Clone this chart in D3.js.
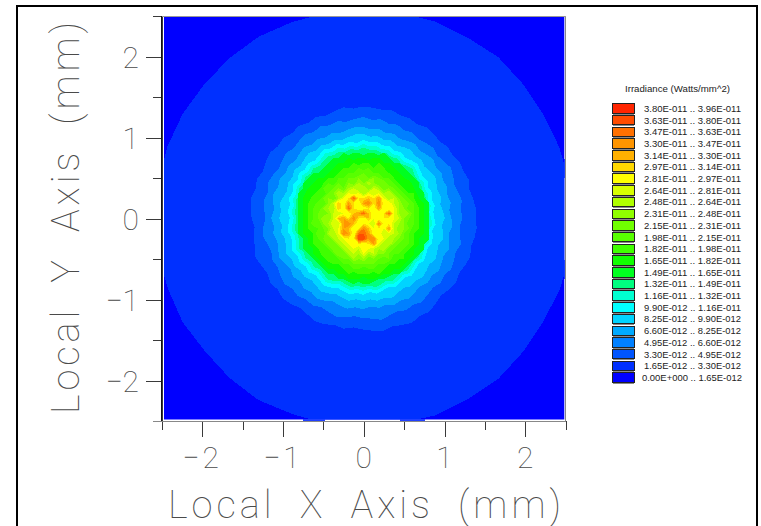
<!DOCTYPE html>
<html><head><meta charset="utf-8">
<script src="https://cdn.jsdelivr.net/npm/d3@7"></script>
<style>html,body{margin:0;padding:0;background:#fff}svg{display:block}</style>
</head><body><svg id="c" width="761" height="526"></svg>
<script>
const legendTitle = "Irradiance (Watts/mm^2)";
const xTitle = "Local X Axis (mm)";
const yTitle = "Local Y Axis (mm)";
const majorTicks = [-2,-1,0,1,2];
const minorTicks = [-2.5,-1.5,-0.5,0.5,1.5,2.5];
const lowerLabels = ["0.00E+000","1.65E-012","3.30E-012","4.95E-012","6.60E-012","8.25E-012","9.90E-012","1.16E-011","1.32E-011","1.49E-011","1.65E-011","1.82E-011","1.98E-011","2.15E-011","2.31E-011","2.48E-011","2.64E-011","2.81E-011","2.97E-011","3.14E-011","3.30E-011","3.47E-011","3.63E-011","3.80E-011"];
const upperLabels = ["1.65E-012","3.30E-012","4.95E-012","6.60E-012","8.25E-012","9.90E-012","1.16E-011","1.32E-011","1.49E-011","1.65E-011","1.82E-011","1.98E-011","2.15E-011","2.31E-011","2.48E-011","2.64E-011","2.81E-011","2.97E-011","3.14E-011","3.30E-011","3.47E-011","3.63E-011","3.80E-011","3.96E-011"];
const levelColors = ["#0000ff","#0030ff","#0055ff","#0080ff","#00aaff","#00d4ff","#00ffff","#00ffd0","#00ff80","#00ff20","#10ff00","#40ff00","#58ff00","#70ff00","#90ff00","#b0ff00","#d8ff00","#ffff00","#ffd800","#ffb000","#ff9500","#ff7000","#ff4c00","#ff2500"];

// Outer contour radii in mm, read at even angles clockwise from the top.
const ring1 = [2.57,2.58,2.59,2.58,2.60,2.58,2.57,2.58,2.59,2.58,2.60,2.59,2.57,2.58,2.60,2.59,2.60,2.58,2.60,2.59,2.58,2.60,2.58,2.56,2.58,2.57,2.58,2.56,2.57,2.58,2.58,2.57,2.58,2.59,2.58,2.58];
const ring2 = [
1.38,1.37,1.36,1.38,1.35,1.36,1.34,1.37,1.36,1.34,1.37,1.35,
1.38,1.37,1.39,1.36,1.38,1.40,1.39,1.41,1.40,1.38,1.41,1.39,
1.37,1.40,1.38,1.36,1.39,1.42,1.40,1.43,1.41,1.39,1.42,1.40,
1.38,1.36,1.39,1.37,1.40,1.41,1.38,1.36,1.39,1.41,1.38,1.40,
1.37,1.39,1.42,1.39,1.37,1.35,1.38,1.40,1.41,1.38,1.40,1.37,
1.39,1.41,1.38,1.40,1.37,1.39,1.36,1.38,1.35,1.37,1.39,1.36];
const ring3 = [
1.25,1.22,1.24,1.21,1.23,1.20,1.22,1.19,1.21,1.23,1.20,1.22,
1.25,1.23,1.20,1.22,1.24,1.21,1.23,1.20,1.22,1.25,1.22,1.24,
1.26,1.23,1.25,1.22,1.24,1.27,1.24,1.26,1.23,1.25,1.28,1.25,
1.24,1.22,1.25,1.27,1.24,1.22,1.25,1.23,1.26,1.24,1.27,1.25,
1.22,1.24,1.21,1.23,1.26,1.24,1.21,1.23,1.25,1.22,1.26,1.24,
1.21,1.23,1.25,1.22,1.24,1.26,1.23,1.25,1.22,1.24,1.21,1.23];
const ring4 = [
1.13,1.10,1.12,1.09,1.11,1.08,1.10,1.12,1.09,1.11,1.13,1.10,
1.12,1.09,1.11,1.08,1.10,1.07,1.09,1.11,1.08,1.10,1.13,1.10,
1.12,1.14,1.11,1.13,1.10,1.12,1.15,1.12,1.14,1.11,1.13,1.10,
1.13,1.11,1.14,1.12,1.10,1.13,1.15,1.12,1.14,1.11,1.13,1.10,
1.12,1.15,1.12,1.10,1.13,1.11,1.14,1.11,1.13,1.15,1.12,1.14,
1.11,1.13,1.10,1.12,1.14,1.11,1.13,1.10,1.12,1.09,1.11,1.13];
const ring5 = [
1.04,1.01,1.03,1.00,1.02,0.99,1.01,1.03,1.00,1.02,0.99,1.01,
1.03,1.00,0.98,1.00,0.97,0.99,1.01,0.98,1.00,1.02,0.99,1.01,
1.03,1.00,1.02,1.04,1.01,1.03,1.00,1.02,1.05,1.02,1.04,1.01,
1.03,1.01,1.04,1.02,1.00,1.03,1.05,1.02,1.00,1.03,1.01,1.04,
1.02,1.05,1.02,1.00,1.03,1.01,1.04,1.02,1.05,1.02,1.00,1.03,
1.01,1.04,1.01,1.03,1.05,1.02,1.04,1.01,1.03,1.00,1.02,1.04];
const ring6 = [
0.97,0.94,0.96,0.93,0.95,0.92,0.94,0.91,0.93,0.95,0.92,0.90,
0.92,0.89,0.91,0.88,0.90,0.87,0.88,0.90,0.87,0.89,0.91,0.88,
0.90,0.92,0.89,0.91,0.93,0.90,0.92,0.94,0.91,0.93,0.95,0.92,
0.95,0.93,0.96,0.94,0.92,0.95,0.97,0.94,0.92,0.95,0.93,0.96,
0.94,0.97,0.94,0.92,0.95,0.93,0.91,0.94,0.92,0.95,0.93,0.96,
0.94,0.97,0.94,0.96,0.93,0.95,0.98,0.95,0.97,0.94,0.96,0.93];
const ring7 = [
0.92,0.89,0.91,0.88,0.90,0.87,0.89,0.86,0.88,0.90,0.87,0.85,
0.87,0.84,0.86,0.83,0.85,0.82,0.84,0.86,0.83,0.85,0.87,0.84,
0.86,0.88,0.85,0.87,0.89,0.86,0.88,0.90,0.87,0.89,0.91,0.88,
0.90,0.88,0.91,0.89,0.87,0.90,0.92,0.89,0.87,0.90,0.88,0.91,
0.89,0.92,0.89,0.87,0.90,0.88,0.86,0.89,0.87,0.90,0.88,0.91,
0.89,0.92,0.89,0.91,0.88,0.90,0.93,0.90,0.92,0.89,0.91,0.88];
const ring8 = [
0.87,0.85,0.86,0.84,0.85,0.83,0.85,0.82,0.84,0.86,0.83,0.82,
0.83,0.81,0.82,0.80,0.81,0.79,0.81,0.82,0.80,0.82,0.83,0.81,
0.82,0.84,0.82,0.83,0.85,0.82,0.84,0.86,0.83,0.85,0.87,0.84,
0.86,0.84,0.87,0.85,0.83,0.86,0.88,0.85,0.83,0.86,0.84,0.87,
0.85,0.88,0.85,0.83,0.86,0.84,0.83,0.85,0.84,0.86,0.84,0.87,
0.85,0.88,0.85,0.87,0.84,0.86,0.88,0.86,0.87,0.85,0.87,0.84];
const outerRings = [ring1,ring2,ring3,ring4,ring5,ring6,ring7,ring8];

// Central beam, colour level at 0.0625 mm spacing, top row first.
const coreStep = 0.0625;
const coreLevels = [
[8,8,8,8,8,8,8,8,8,8,8,8,8,8,8,8,8,8,8,8,8,8,8,8,8,8,8,8,8],
[8,8,8,8,8,8,8,8,8,8,9,8,9,9,8,9,9,8,9,8,8,8,8,8,8,8,8,8,8],
[8,8,8,8,8,8,8,8,9,9,9,10,9,10,10,9,10,10,9,9,8,8,8,8,8,8,8,8,8],
[8,8,8,8,8,8,8,9,9,10,10,10,11,10,11,11,10,11,10,10,9,9,8,8,8,8,8,8,8],
[8,8,8,8,8,8,9,9,10,10,11,11,11,12,11,12,11,11,11,10,10,9,9,8,8,8,8,8,8],
[8,8,8,8,9,9,9,10,10,11,11,12,12,12,13,12,12,12,11,11,10,10,9,9,8,8,8,8,8],
[8,8,8,9,9,10,10,11,11,12,12,13,13,14,13,13,14,13,12,12,11,10,10,9,9,8,8,8,8],
[8,8,9,9,10,10,11,12,11,13,12,14,13,15,14,16,14,13,14,12,12,11,10,11,9,9,8,8,8],
[8,8,9,10,11,10,12,12,13,14,13,15,16,15,16,14,16,15,13,14,13,12,11,10,10,9,8,8,8],
[8,9,9,11,10,12,11,13,14,16,15,17,16,17,15,17,16,17,15,16,14,13,12,11,11,9,9,8,8],
[8,9,10,10,12,11,13,14,13,15,17,18,22,18,18,19,18,20,17,15,16,14,13,12,11,10,9,8,8],
[8,9,10,11,11,13,12,14,16,19,17,20,18,17,20,21,18,21,17,18,16,15,13,13,12,10,10,9,8],
[8,9,10,11,12,12,14,15,15,19,17,22,18,17,17,18,17,20,17,17,17,15,14,12,12,11,10,9,8],
[8,9,10,11,12,13,13,14,16,16,17,17,19,20,22,19,17,17,18,22,17,15,14,14,12,11,10,9,8],
[8,9,10,11,12,13,15,14,16,19,20,18,21,18,17,19,17,17,18,17,17,16,14,13,12,11,10,9,8],
[8,9,10,11,13,12,14,15,17,16,20,21,19,17,18,17,16,21,17,18,16,15,14,12,12,11,10,9,8],
[8,9,10,11,11,12,13,14,16,17,20,19,17,18,21,19,17,18,17,20,16,14,14,13,11,11,10,9,8],
[8,9,10,10,11,13,12,15,15,17,21,20,17,22,22,20,17,18,16,17,16,15,13,12,11,10,10,9,8],
[8,8,9,10,11,12,13,13,15,16,17,18,17,23,23,20,21,17,17,15,15,14,13,12,11,10,9,9,8],
[8,8,9,10,11,11,12,14,13,15,16,17,17,18,17,18,20,17,15,16,14,13,12,12,11,10,9,8,8],
[8,8,9,9,10,11,11,12,14,13,15,16,17,16,18,17,16,15,16,13,13,12,12,11,10,9,9,8,8],
[8,8,8,9,10,10,12,11,12,14,13,15,16,15,17,15,16,14,14,13,12,12,11,10,10,9,8,8,8],
[8,8,8,8,9,10,10,12,11,12,13,13,15,14,15,13,14,13,12,13,11,11,11,10,9,8,8,8,8],
[8,8,8,8,8,9,10,10,11,11,12,12,13,13,13,13,13,12,12,11,11,10,10,9,8,8,8,8,8],
[8,8,8,8,8,8,9,10,10,10,11,11,12,12,11,12,12,11,11,10,10,10,9,8,8,8,8,8,8],
[8,8,8,8,8,8,8,9,9,10,10,11,10,11,11,11,10,11,10,10,9,9,8,8,8,8,8,8,8],
[8,8,8,8,8,8,8,8,8,9,9,10,10,10,9,10,10,9,9,8,8,8,8,8,8,8,8,8,8],
[8,8,8,8,8,8,8,8,8,8,8,8,9,8,9,9,8,8,8,8,8,8,8,8,8,8,8,8,8],
[8,8,8,8,8,8,8,8,8,8,8,8,8,8,8,8,8,8,8,8,8,8,8,8,8,8,8,8,8]
];
const coreThresholds = d3.range(9,24);

// Slightly lighter clipped runs on the outer edge of the plot, in mm.
const rightEdgeRuns = [[0.735,0.5],[-0.51,-0.75]];
const bottomEdgeRuns = [[-0.75,-0.48],[0.45,0.76]];

const svg = d3.select("#c");
const x = d3.scaleLinear().domain([-2.5,2.5]).range([161.7,565.7]);
const y = d3.scaleLinear().domain([-2.5,2.5]).range([421,16]);
const inkDark = "#3a3a3a", inkText = "#4a4a4a";
const thinFont = "Roboto, 'Open Sans', 'Liberation Sans', sans-serif";

// frame
const frame = svg.append("g").attr("stroke","#000").attr("stroke-width",2).attr("fill","none").attr("shape-rendering","crispEdges");
frame.append("path").attr("d","M16.5,526V5.5H757V526");

// plot
svg.append("defs").append("clipPath").attr("id","plotClip").append("rect")
  .attr("x",x(-2.5)+2.3).attr("y",y(2.5)+1).attr("width",x(2.5)-x(-2.5)-3.7).attr("height",y(-2.5)-y(2.5)-2.6);
const plot = svg.append("g").attr("clip-path","url(#plotClip)").attr("shape-rendering","crispEdges");
plot.append("rect").attr("x",x(-2.5)).attr("y",y(2.5)).attr("width",x(2.5)-x(-2.5)).attr("height",y(-2.5)-y(2.5)).attr("fill",levelColors[0]);
const radial = d3.lineRadial()
  .angle((d,i,a)=>i*Math.PI*2/a.length)
  .radius(d=>x(d)-x(0))
  .curve(d3.curveLinearClosed);
plot.selectAll("path.ring").data(outerRings).join("path").attr("class","ring")
  .attr("transform",`translate(${x(0)-0.5},${y(0)-0.5})`)
  .attr("d",radial)
  .attr("fill",(d,i)=>levelColors[i+1]);
const nRows = coreLevels.length, nCols = coreLevels[0].length;
const coreX0 = -coreStep*(nCols-1)/2, coreY0 = coreStep*(nRows-1)/2;
const contours = d3.contours().size([nCols,nRows]).thresholds(coreThresholds)(coreLevels.flat());
const corePath = d3.geoPath(d3.geoTransform({point(px,py){
  this.stream.point(x(coreX0+(px-0.5)*coreStep), y(coreY0-(py-0.5)*coreStep));
}}));
plot.selectAll("path.core").data(contours).join("path").attr("class","core")
  .attr("d",corePath).attr("fill",d=>levelColors[d.value]);

// edge runs
const edges = svg.append("g").attr("fill","#2040ff").attr("shape-rendering","crispEdges");
edges.selectAll("rect.r").data(rightEdgeRuns).join("rect").attr("class","r")
  .attr("x",x(2.5)-2).attr("width",2).attr("y",d=>y(d[0])).attr("height",d=>y(d[1])-y(d[0]));
edges.selectAll("rect.b").data(bottomEdgeRuns).join("rect").attr("class","b")
  .attr("y",y(-2.5)-2).attr("height",1.5).attr("x",d=>x(d[0])).attr("width",d=>x(d[1])-x(d[0]));

// axes
const styleAxis = g => { g.selectAll("line,path").attr("stroke",inkDark).attr("shape-rendering","crispEdges"); };
const xAxisMinor = d3.axisBottom(x).tickValues(minorTicks).tickSize(9).tickFormat("").tickSizeOuter(0);
const xAxisMajor = d3.axisBottom(x).tickValues(majorTicks).tickSize(16).tickFormat("").tickSizeOuter(0);
const yAxisMinor = d3.axisLeft(y).tickValues(minorTicks).tickSize(9).tickFormat("").tickSizeOuter(0);
const yAxisMajor = d3.axisLeft(y).tickValues(majorTicks).tickSize(16).tickFormat("").tickSizeOuter(0);
svg.append("g").attr("transform",`translate(0,${y(-2.5)})`).call(xAxisMinor).call(styleAxis);
svg.append("g").attr("transform",`translate(0,${y(-2.5)})`).call(xAxisMajor).call(styleAxis);
svg.append("g").attr("transform",`translate(${x(-2.5)},0)`).call(yAxisMinor).call(styleAxis);
svg.append("g").attr("transform",`translate(${x(-2.5)},0)`).call(yAxisMajor).call(styleAxis);
svg.append("path").attr("d",`M${x(-2.5)-9},${y(-2.5)}H${x(2.5)}V${y(2.5)}`).attr("stroke","#888").attr("fill","none").attr("shape-rendering","crispEdges");
svg.append("path").attr("d",`M${x(-2.5)},${y(-2.5)}V${y(2.5)}`).attr("stroke","#111").attr("fill","none").attr("shape-rendering","crispEdges");
svg.append("path").attr("d",`M${x(-2.5)},${y(2.5)}H${x(2.5)}`).attr("stroke","#999").attr("fill","none").attr("shape-rendering","crispEdges");

// tick labels
const fmt = v => (v<0?"\u2212":"")+Math.abs(v);
const thin = s => s.attr("font-family",thinFont).attr("font-weight",100).attr("fill",inkText);
svg.append("g").selectAll("text").data(majorTicks).join("text").call(thin)
  .attr("x",d=>x(d)).attr("y",468).attr("font-size",30).attr("text-anchor","middle").attr("letter-spacing",d=>d<0?3:0).text(fmt);
svg.append("g").selectAll("text").data(majorTicks).join("text").call(thin)
  .attr("x",139).attr("y",d=>y(d)+11).attr("font-size",30).attr("text-anchor","end").text(fmt);

// axis titles
svg.append("text").call(thin).attr("x",168).attr("y",518).attr("font-size",38).attr("word-spacing",11)
  .attr("textLength",393).attr("lengthAdjust","spacing").text(xTitle);
svg.append("text").call(thin).attr("transform","translate(79,414) rotate(-90)").attr("font-size",38).attr("word-spacing",11)
  .attr("textLength",392).attr("lengthAdjust","spacing").text(yTitle);

// legend
const legendRow = d3.scaleLinear().domain([23,0]).range([108.2,377.3]);
svg.append("text").attr("x",677.5).attr("y",92).attr("text-anchor","middle").attr("font-family","'Liberation Sans',Arial,sans-serif").attr("font-size",9.5).attr("fill","#222")
  .attr("textLength",105).attr("lengthAdjust","spacingAndGlyphs").text(legendTitle);
const lg = svg.append("g").selectAll("g").data(levelColors).join("g").attr("transform",(d,i)=>`translate(0,${legendRow(i)})`);
lg.append("rect").attr("x",612.5).attr("y",-4.5).attr("width",21.5).attr("height",9.5).attr("fill",d=>d).attr("stroke","#222").attr("shape-rendering","crispEdges");
lg.append("rect").attr("x",612.5).attr("y",5.5).attr("width",21.5).attr("height",1).attr("fill","#888").attr("shape-rendering","crispEdges");
lg.append("text").attr("x",(d,i)=>i===0?642:644).attr("y",3.6).attr("font-family","'Liberation Sans',Arial,sans-serif").attr("font-size",9.5).attr("fill","#222")
  .attr("textLength",(d,i)=>i===0?100:97).attr("lengthAdjust","spacingAndGlyphs")
  .text((d,i)=>`${lowerLabels[i]} .. ${upperLabels[i]}`);
</script></body></html>
